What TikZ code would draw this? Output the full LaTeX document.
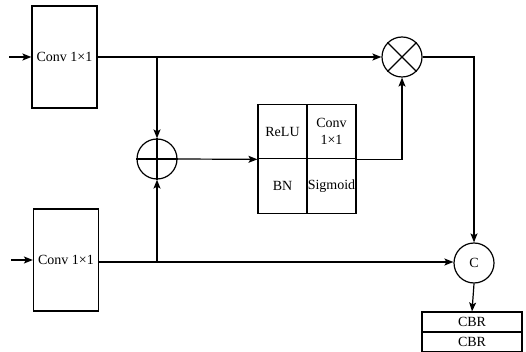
\documentclass[tikz,border=0pt]{standalone}
\usepackage{fontspec}
\setmainfont{Liberation Serif}
\usepackage{tikz}
\usetikzlibrary{arrows,arrows.meta,positioning,calc}

\tikzset{
  convbox/.style={draw,line width=1.2pt,minimum width=65pt,minimum height=102pt,inner sep=0pt},
  cell/.style={draw,line width=1.2pt,minimum width=49pt,minimum height=54.5pt,inner sep=0pt,align=center},
  opcirc/.style={draw,circle,line width=1.2pt,minimum size=40pt,inner sep=0pt},
  cbrbox/.style={draw,line width=1.2pt,minimum width=100pt,minimum height=20pt,inner sep=0pt},
  link/.style={line width=1.2pt,-{Stealth[length=9pt,width=7pt,inset=2pt]}},
  wire/.style={line width=1.2pt}
}

\begin{document}
\begin{tikzpicture}[x=1pt,y=-1pt,font=\fontsize{14}{15}\selectfont]
  \useasboundingbox (0,0) rectangle (526,352);

  % 入力側の畳み込み
  \node[convbox] (conv1) at (64.5,57) {Conv 1×1};
  \node[convbox] (conv2) at (66,260) {Conv 1×1};
  \coordinate (in1) at (9,57);
  \coordinate (in2) at (11,260);
  \draw[link] (in1) -- (conv1.west);
  \draw[link] (in2) -- (conv2.west);

  % 加算と注意ブロック
  \node[opcirc] (plus) at (157,159) {};
  \draw[wire] (plus.north) -- (plus.south);
  \draw[wire] (plus.west) -- (plus.east);

  \node[cell] (relu) at (282.5,131.5) {ReLU};
  \node[cell] (conv3) at (331.5,131.5) {Conv\\[2pt]1×1};
  \node[cell] (bn) at (282.5,186) {BN};
  \node[cell] (sig) at (331.5,186) {Sigmoid};

  % 乗算と連結
  \node[opcirc] (times) at (402,57) {};
  \draw[wire] (times.north west) -- (times.south east);
  \draw[wire] (times.north east) -- (times.south west);
  \node[opcirc] (cat) at (474,263) {C};

  \node[cbrbox] (cbr1) at (472,322) {CBR};
  \node[cbrbox] (cbr2) at (472,342) {CBR};

  % 接続
  \coordinate (b1) at (157,57);
  \coordinate (b2) at (157,262);
  \draw[link] (conv1.east) -- (times.west);
  \draw[link] (b1) -- (plus.north);
  \draw[link] (conv2.east |- b2) -- (cat.west |- b2);
  \draw[link] (b2) -- (plus.south);
  \draw[link] (plus.east) -- (relu.south west);
  \draw[link] (conv3.south east) -| (times.south);
  \draw[link] (times.east) -| (cat.north);
  \draw[link] (cat.south) -- (cbr1.north);
\end{tikzpicture}
\end{document}
